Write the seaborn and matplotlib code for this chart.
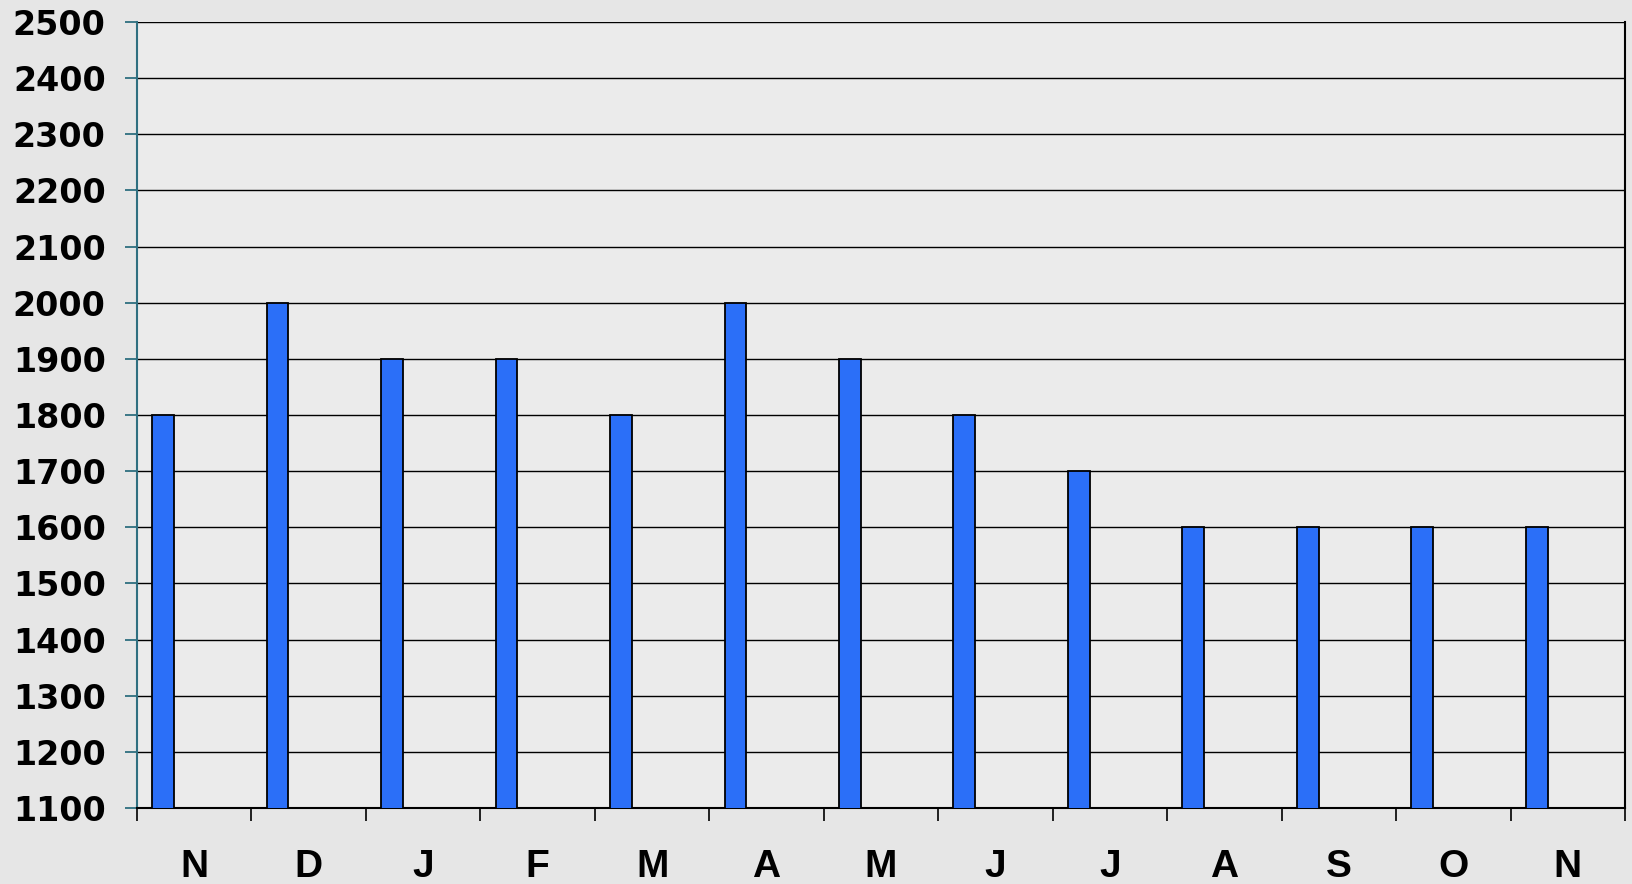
import numpy as np
import matplotlib
matplotlib.use("Agg")
import matplotlib.pyplot as plt
import seaborn as sns
from matplotlib.ticker import FixedLocator, NullFormatter

months = ["N", "D", "J", "F", "M", "A", "M", "J", "J", "A", "S", "O", "N"]
values = [1800, 2000, 1900, 1900, 1800, 2000, 1900, 1800, 1700, 1600, 1600, 1600, 1600]
y_ticks = list(range(1100, 2501, 100))

sns.set_theme(style="white")
plt.rcParams["font.family"] = ["Liberation Sans", "DejaVu Sans"]

bg = "#e6e6e6"
fig = plt.figure(figsize=(16.33, 8.84), dpi=100, facecolor=bg)
ax = fig.add_axes([137 / 1633, 1 - 808 / 884, (1625 - 137) / 1633, (808 - 22) / 884])
ax.set_facecolor("#ebebeb")

pos = np.arange(len(months)) - 0.272
sns.barplot(x=pos, y=values, native_scale=True, width=0.19, color="#2b6ff8",
            saturation=1, edgecolor="black", linewidth=1.3, ax=ax, zorder=3)

ax.set_xlim(-0.5, len(months) - 0.5)
ax.set_ylim(1100, 2500)
ax.set_yticks(y_ticks)
ax.set_yticklabels([str(v) for v in y_ticks], fontsize=24, fontweight="bold",
                   family="DejaVu Sans", color="black")
ax.yaxis.grid(True, color="black", linewidth=1.0, zorder=0)
ax.xaxis.grid(False)
ax.set_axisbelow(True)

ax.xaxis.set_major_locator(FixedLocator(np.arange(-0.5, len(months), 1.0)))
ax.xaxis.set_major_formatter(NullFormatter())
ax.xaxis.set_minor_locator(FixedLocator(np.arange(len(months))))
ax.set_xticklabels(months, minor=True, fontsize=28, fontweight="bold", color="black")
ax.tick_params(axis="x", which="major", direction="out", length=9, width=1.2,
               color="black", bottom=True)
ax.tick_params(axis="x", which="minor", length=0, pad=29.5, bottom=True)
ax.tick_params(axis="y", direction="out", length=9, width=1.3, color="#2f6f80",
               left=True, pad=13.5)
ax.set_xlabel("")
ax.set_ylabel("")

ax.spines["top"].set_visible(False)
ax.spines["left"].set_color("#2f6f80")
ax.spines["left"].set_linewidth(1.5)
ax.spines["bottom"].set_color("black")
ax.spines["bottom"].set_linewidth(1.5)
ax.spines["right"].set_color("black")
ax.spines["right"].set_linewidth(1.5)

fig.savefig("out.png", dpi=100, facecolor=bg)
